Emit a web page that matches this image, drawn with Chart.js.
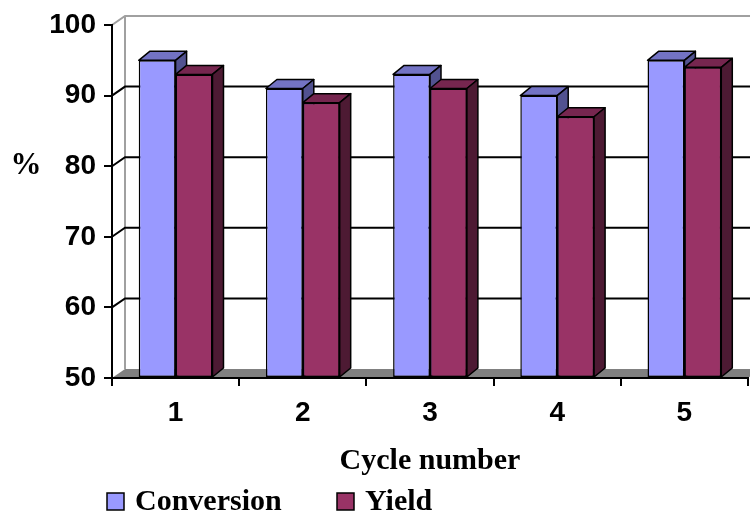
<!DOCTYPE html>
<html>
<head>
<meta charset="utf-8">
<script src="https://cdn.jsdelivr.net/npm/chart.js@4.4.1/dist/chart.umd.min.js"></script>
<style>
  html, body { margin: 0; padding: 0; background: #fff; }
  #wrap { width: 750px; height: 512px; }
</style>
</head>
<body>
<div id="wrap"><canvas id="chart" width="750" height="512"></canvas></div>
<script>
// =====================
// Data
// =====================
const categories = ["1", "2", "3", "4", "5"];
const conversion = [95, 91, 93, 90, 95];
const yieldValues = [93, 89, 91, 87, 94];
const yMin = 50, yMax = 100, yStep = 10;

// =====================
// Styles
// =====================
const SANS = '"Liberation Sans", Arial, sans-serif';
const SERIF = '"Liberation Serif", "Times New Roman", serif';
const frontColors = ["#9999FF", "#993366"];
const topColors = ["#7373C4", "#76264F"];
const sideColors = ["#525290", "#4D1A33"];
const BAR_DX = 11, BAR_DY = 9;   // bar depth
const WALL_DX = 13, WALL_DY = 9; // wall depth

// back wall, floor and grid lines (drawn before the axes)
const wallPlugin = {
  id: "wall",
  beforeDraw(chart) {
    const { ctx, chartArea: a, scales } = chart;
    const y = scales.y;
    const W = chart.width;
    ctx.save();
    // floor
    ctx.fillStyle = "#808080";
    ctx.beginPath();
    ctx.moveTo(a.left, a.bottom);
    ctx.lineTo(a.right, a.bottom);
    ctx.lineTo(a.right + WALL_DX, a.bottom - WALL_DY);
    ctx.lineTo(a.left + WALL_DX, a.bottom - WALL_DY);
    ctx.closePath();
    ctx.fill();
    // wall edges
    ctx.strokeStyle = "#a0a0a0";
    ctx.lineWidth = 2;
    ctx.beginPath();
    ctx.moveTo(a.left, a.top);
    ctx.lineTo(a.left + WALL_DX, a.top - WALL_DY);
    ctx.lineTo(W, a.top - WALL_DY);
    ctx.moveTo(a.left + WALL_DX, a.top - WALL_DY);
    ctx.lineTo(a.left + WALL_DX, a.bottom - WALL_DY);
    ctx.stroke();
    // grid lines on the back wall
    ctx.strokeStyle = "#000";
    ctx.lineWidth = 2;
    for (let v = yMin + yStep; v < yMax; v += yStep) {
      const py = y.getPixelForValue(v);
      ctx.beginPath();
      ctx.moveTo(a.left, py);
      ctx.lineTo(a.left + WALL_DX, py - WALL_DY);
      ctx.lineTo(W, py - WALL_DY);
      ctx.stroke();
    }
    ctx.restore();
  }
};

// top and side faces of one bar
function drawFaces(ctx, bar, idx) {
  const l = bar.x - bar.width / 2, r = bar.x + bar.width / 2;
  const t = bar.y, b = bar.base;
  ctx.save();
  ctx.strokeStyle = "#000";
  ctx.lineWidth = 1.5;
  ctx.lineJoin = "round";
  ctx.fillStyle = topColors[idx];
  ctx.beginPath();
  ctx.moveTo(l, t);
  ctx.lineTo(l + BAR_DX, t - BAR_DY);
  ctx.lineTo(r + BAR_DX, t - BAR_DY);
  ctx.lineTo(r, t);
  ctx.closePath();
  ctx.fill();
  ctx.stroke();
  ctx.fillStyle = sideColors[idx];
  ctx.beginPath();
  ctx.moveTo(r, t);
  ctx.lineTo(r + BAR_DX, t - BAR_DY);
  ctx.lineTo(r + BAR_DX, b - BAR_DY);
  ctx.lineTo(r, b);
  ctx.closePath();
  ctx.fill();
  ctx.stroke();
  ctx.restore();
}

// conversion faces, then yield front on top, then yield faces
const depthPlugin = {
  id: "depth",
  afterDatasetsDraw(chart) {
    const { ctx } = chart;
    const convMeta = chart.getDatasetMeta(0);
    const yieldMeta = chart.getDatasetMeta(1);
    categories.forEach((c, i) => {
      drawFaces(ctx, convMeta.data[i], 0);
      yieldMeta.data[i].draw(ctx);
      drawFaces(ctx, yieldMeta.data[i], 1);
    });
  }
};

// "%" label and the legend at the bottom
const labelsPlugin = {
  id: "labels",
  afterDraw(chart) {
    const { ctx } = chart;
    ctx.save();
    ctx.fillStyle = "#000";
    ctx.font = "bold 31px " + SERIF;
    ctx.textAlign = "center";
    ctx.textBaseline = "middle";
    ctx.fillText("%", 26, 166);

    const legendX = [107, 337];
    ctx.font = "bold 30px " + SERIF;
    ctx.textAlign = "left";
    ctx.textBaseline = "alphabetic";
    chart.data.datasets.forEach((ds, i) => {
      ctx.fillStyle = ds.backgroundColor;
      ctx.fillRect(legendX[i], 493, 17, 17);
      ctx.strokeStyle = "#000";
      ctx.lineWidth = 1.5;
      ctx.strokeRect(legendX[i], 493, 17, 17);
      ctx.fillStyle = "#000";
      ctx.fillText(ds.label, legendX[i] + 28, 510);
    });
    ctx.restore();
  }
};

// =====================
// Chart.js
// =====================
const ctx = document.getElementById("chart").getContext("2d");
new Chart(ctx, {
  type: "bar",
  data: {
    labels: categories,
    datasets: [
      { label: "Conversion", data: conversion, backgroundColor: frontColors[0] },
      { label: "Yield", data: yieldValues, backgroundColor: frontColors[1] }
    ]
  },
  options: {
    responsive: false,
    animation: false,
    devicePixelRatio: 1,
    layout: { padding: { top: 25, left: 0, right: 2, bottom: 0 } },
    datasets: {
      bar: {
        base: yMin,
        borderColor: "#000",
        borderWidth: 1.5,
        borderSkipped: false,
        categoryPercentage: 0.58,
        barPercentage: 1
      }
    },
    plugins: { legend: { display: false }, tooltip: { enabled: false } },
    scales: {
      x: {
        afterFit: s => { s.height = 134; },
        grid: { drawOnChartArea: false, offset: true, color: "#000", tickLength: 8, lineWidth: 2 },
        border: { color: "#000", width: 2 },
        ticks: { color: "#000", padding: 10, font: { family: SANS, size: 28, weight: "bold" } },
        title: {
          display: true,
          text: "Cycle number",
          color: "#000",
          padding: { top: 0, bottom: 33 },
          font: { family: SERIF, size: 30, weight: "bold" }
        }
      },
      y: {
        min: yMin,
        max: yMax,
        afterFit: s => { s.width = 112; },
        grid: { drawOnChartArea: false, color: "#000", tickLength: 8, lineWidth: 2 },
        border: { color: "#000", width: 2 },
        ticks: { stepSize: yStep, color: "#000", padding: 8, font: { family: SANS, size: 28, weight: "bold" } }
      }
    }
  },
  plugins: [wallPlugin, depthPlugin, labelsPlugin]
});
</script>
</body>
</html>
